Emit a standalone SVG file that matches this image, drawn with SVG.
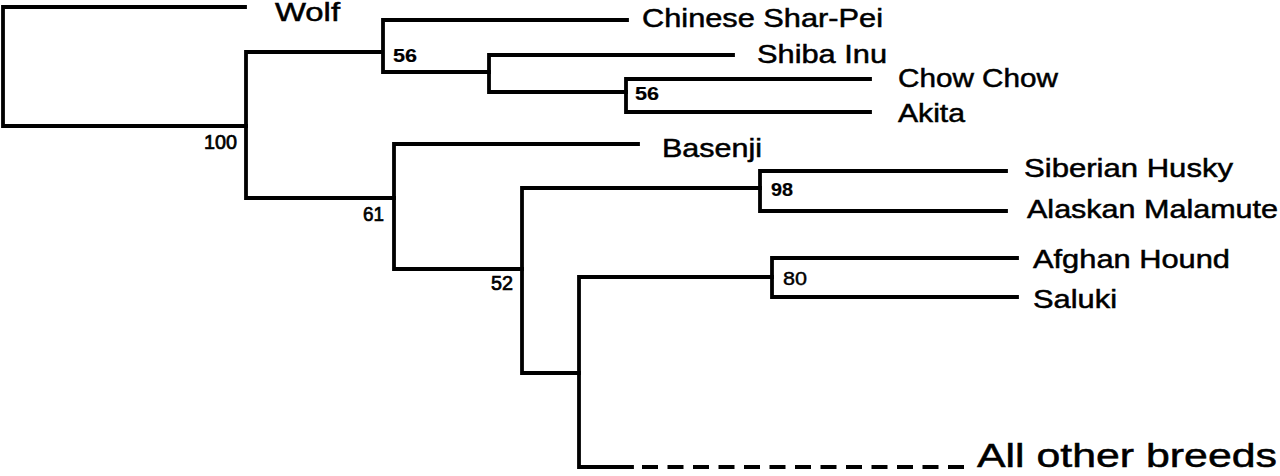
<svg xmlns="http://www.w3.org/2000/svg" width="1280" height="476" viewBox="0 0 1280 476">
<style>
.br{fill:none;stroke:#000;stroke-width:3.8;stroke-linecap:square;stroke-linejoin:miter}
.dash{fill:none;stroke:#000;stroke-width:3.8;stroke-dasharray:16 9.5}
text{font-family:"Liberation Sans",Arial,sans-serif;fill:#000;stroke:#000;stroke-width:0.5}
.lab{font-size:26px}
.big{font-size:33px}
.bs{font-size:20px;stroke-width:0.7}
.bi{font-size:18px;font-weight:bold;stroke-width:0.2}
.bn{font-size:18px;stroke-width:0.4}
</style>
<rect width="1280" height="476" fill="#fff"/>
<g id="connectors">
<path class="br" d="M245,7 H3 V126 H246"/>
<path class="br" d="M382,52 H246 V198 H394"/>
<path class="br" d="M627,20 H383 V72 H489"/>
<path class="br" d="M733,55 H489 V92 H626"/>
<path class="br" d="M870,79 H626 V112 H870"/>
<path class="br" d="M638,144 H394 V269 H522"/>
<path class="br" d="M760,188 H522 V373 H579"/>
<path class="br" d="M1006,171 H760 V211 H1006"/>
<path class="br" d="M772,277 H579 V467 H632"/>
<path class="br" d="M1017,258 H772 V297 H1017"/>
<path class="dash" d="M642,467 H964"/>
</g>
<g id="node-root"><text class="bs" x="204" y="149" textLength="33" lengthAdjust="spacingAndGlyphs">100</text></g>
<g id="node-61"><text class="bs" x="363" y="221" textLength="21" lengthAdjust="spacingAndGlyphs">61</text></g>
<g id="node-52"><text class="bs" x="491" y="290" textLength="22" lengthAdjust="spacingAndGlyphs">52</text></g>
<g id="node-56a"><text class="bi" x="393" y="62" textLength="24" lengthAdjust="spacingAndGlyphs">56</text></g>
<g id="node-56b"><text class="bi" x="635" y="100" textLength="24" lengthAdjust="spacingAndGlyphs">56</text></g>
<g id="node-98"><text class="bi" x="771" y="196" textLength="22" lengthAdjust="spacingAndGlyphs">98</text></g>
<g id="node-80"><text class="bn" x="783" y="285" textLength="24" lengthAdjust="spacingAndGlyphs">80</text></g>
<g id="wolf"><text class="lab" x="275" y="21" textLength="65" lengthAdjust="spacingAndGlyphs">Wolf</text></g>
<g id="chinese-shar-pei"><text class="lab" x="642" y="27" textLength="241" lengthAdjust="spacingAndGlyphs">Chinese Shar-Pei</text></g>
<g id="shiba-inu"><text class="lab" x="757" y="63" textLength="130" lengthAdjust="spacingAndGlyphs">Shiba Inu</text></g>
<g id="chow-chow"><text class="lab" x="898" y="87" textLength="160" lengthAdjust="spacingAndGlyphs">Chow Chow</text></g>
<g id="akita"><text class="lab" x="898" y="122" textLength="67" lengthAdjust="spacingAndGlyphs">Akita</text></g>
<g id="basenji"><text class="lab" x="662" y="157" textLength="100" lengthAdjust="spacingAndGlyphs">Basenji</text></g>
<g id="siberian-husky"><text class="lab" x="1024" y="177" textLength="209" lengthAdjust="spacingAndGlyphs">Siberian Husky</text></g>
<g id="alaskan-malamute"><text class="lab" x="1027" y="218" textLength="251" lengthAdjust="spacingAndGlyphs">Alaskan Malamute</text></g>
<g id="afghan-hound"><text class="lab" x="1033" y="268" textLength="197" lengthAdjust="spacingAndGlyphs">Afghan Hound</text></g>
<g id="saluki"><text class="lab" x="1033" y="308" textLength="84" lengthAdjust="spacingAndGlyphs">Saluki</text></g>
<g id="all-other-breeds"><text class="big" x="977" y="467" textLength="300" lengthAdjust="spacingAndGlyphs">All other breeds</text></g>
</svg>
